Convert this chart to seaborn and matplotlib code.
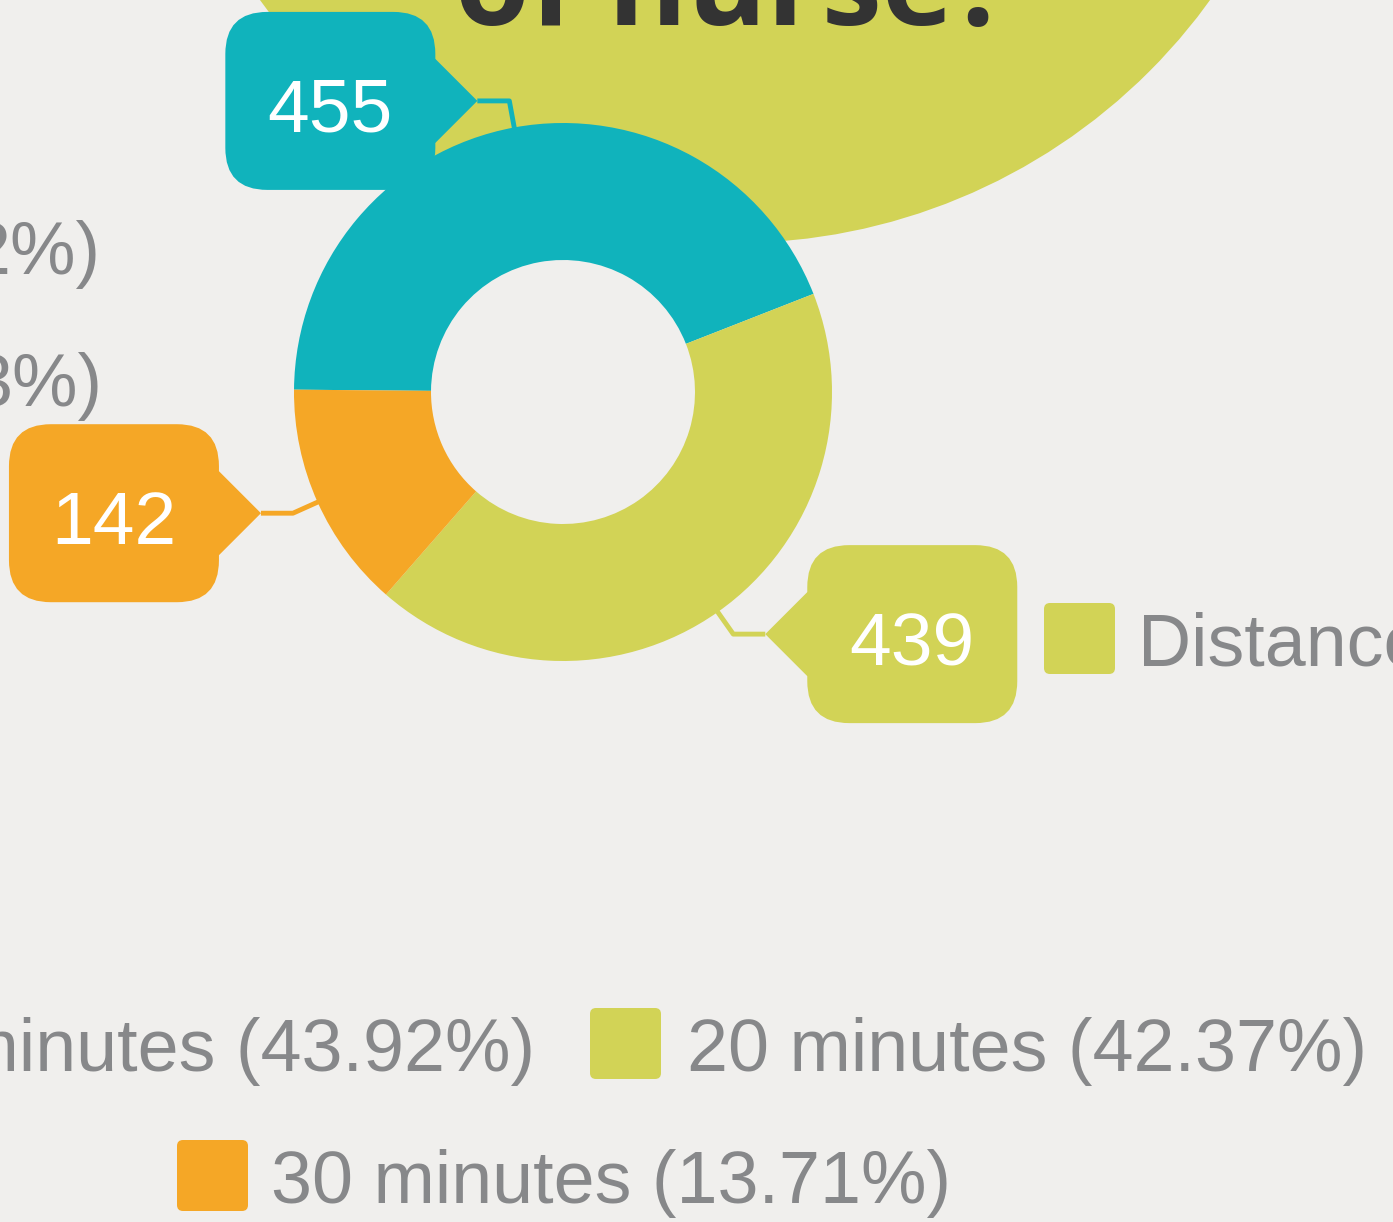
import numpy as np
import matplotlib.pyplot as plt
import seaborn as sns
from matplotlib.patches import FancyBboxPatch, Circle, Polygon

# donut data
labels = ["10 minutes", "20 minutes", "30 minutes"]
values = [455, 439, 142]
colors = ["#10B3BC", "#D2D356", "#F5A726"]

# legend text visible in the crop
legend_bottom = ["20 minutes", "30 minutes"]
cut_left_labels = ["2%)", "3%)"]
right_legend = "Distance"
title_txt = "of nurse?"

bg = "#F0EFED"
grey = "#87888A"

sns.set_theme(style="white", rc={"axes.facecolor": bg, "figure.facecolor": bg})
plt.rcParams['font.family'] = ['Liberation Sans', 'DejaVu Sans']

pal = sns.color_palette(colors)
total = sum(values)
pct = [v / total * 100 for v in values]

fig = plt.figure(figsize=(13.93, 12.22), dpi=100)
ax = fig.add_axes([0, 0, 1, 1])

# big background bubble with the title
ax.add_patch(Circle((735, -343), 586, color=pal[1], zorder=0, lw=0))
ax.text(733, 25, title_txt, fontfamily=['Open Sans', 'DejaVu Sans'], fontweight='bold',
        fontsize=87, color='#333333', ha='center', va='baseline', zorder=1)

# donut
cx, cy, R, r_in = 563, 392, 269, 132
wedges, _ = ax.pie(values, colors=pal, center=(cx, cy), radius=R, startangle=180.5,
                   counterclock=True, wedgeprops=dict(width=R - r_in, linewidth=0))
for w in wedges:
    w.set_zorder(2)

# callouts
bw, bh = 210, 178
for w, v, c in zip(wedges, values, pal):
    t = np.deg2rad((w.theta1 + w.theta2) / 2)
    x0, y0 = cx + (R - 2) * np.cos(t), cy + (R - 2) * np.sin(t)
    xe, ye = cx + 296 * np.cos(t), cy + 296 * np.sin(t)
    s = 1 if np.cos(t) > 0 else -1
    xt = xe + s * 32
    ax.plot([x0, xe, xt], [y0, ye, ye], color=c, lw=3.5, solid_capstyle='butt', zorder=3)
    xb = xt + s * 42
    left = xb if s > 0 else xb - bw
    ax.add_patch(Polygon([(xt, ye), (xb, ye - 42), (xb + s * 20, ye - 42),
                          (xb + s * 20, ye + 42), (xb, ye + 42)], closed=True,
                         color=c, lw=0, zorder=4))
    ax.add_patch(FancyBboxPatch((left, ye - bh / 2), bw, bh,
                                boxstyle="round,pad=0,rounding_size=42",
                                color=c, lw=0, zorder=4))
    ax.text(left + bw / 2, ye + 31, str(v), color='white', fontsize=54,
            ha='center', va='baseline', zorder=5)

# legends
def square(x, y, c):
    ax.add_patch(FancyBboxPatch((x, y), 71, 71, boxstyle="round,pad=0,rounding_size=6",
                                color=c, lw=0, zorder=4))

fs = 53
ax.text(535, 1071, f"{labels[0]} ({pct[0]:.2f}%)", color=grey, fontsize=fs,
        ha='right', va='baseline')
square(590, 1008, pal[1])
ax.text(687, 1071, f"{legend_bottom[0]} ({pct[1]:.2f}%)", color=grey, fontsize=fs,
        ha='left', va='baseline')
square(177, 1140, pal[2])
ax.text(271, 1203, f"{legend_bottom[1]} ({pct[2]:.2f}%)", color=grey, fontsize=fs,
        ha='left', va='baseline')
square(1044, 603, pal[1])
ax.text(1138, 666, right_legend, color=grey, fontsize=fs, ha='left', va='baseline')
ax.text(100, 274, cut_left_labels[0], color=grey, fontsize=fs, ha='right', va='baseline')
ax.text(102, 406, cut_left_labels[1], color=grey, fontsize=fs, ha='right', va='baseline')

ax.set_xlim(0, 1393)
ax.set_ylim(1222, 0)
ax.set_aspect('auto')
ax.axis('off')

fig.savefig("out.png", dpi=100, facecolor=bg)
